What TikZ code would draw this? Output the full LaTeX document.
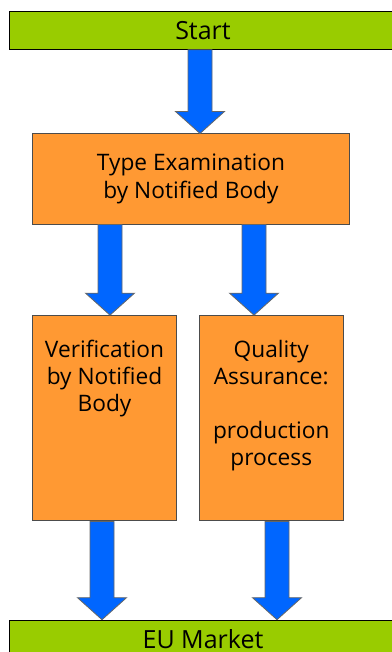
\documentclass[tikz,border=0pt]{standalone}
\usepackage{fontspec}
\setmainfont{Open Sans}
\usetikzlibrary{calc,positioning}
\definecolor{bargreen}{RGB}{153,204,0}
\definecolor{boxorange}{RGB}{255,153,51}
\definecolor{arrowblue}{RGB}{0,102,255}
\tikzstyle{flowstyle}=[
    x=1pt, y=-1pt,
    bar/.style={
        draw=black, fill=bargreen, line width=1pt,
        minimum width=387.4pt, minimum height=37.6pt, inner sep=0pt,
        font=\fontsize{25}{28}\selectfont,
    },
    stepbox/.style={
        draw=black!70, fill=boxorange, line width=1pt, inner sep=0pt,
        align=center, font=\fontsize{22.7}{28}\selectfont,
    },
    boxtext/.style={
        inner sep=0pt, align=center, font=\fontsize{22.7}{27}\selectfont,
    },
    blockarrow/.style={
        fill=arrowblue, draw=black!60, line width=0.8pt, line join=miter,
    },
]
% block arrow from (#1) down to (#2)
\newcommand{\blockarrow}[2]{%
    \draw[blockarrow] let \p1=(#1), \p2=(#2) in
        (\x1-12pt,\y1) -- (\x1+12pt,\y1) -- (\x1+12pt,\y2+22pt)
        -- (\x1+24.5pt,\y2+22pt) -- (\x2,\y2) -- (\x1-24.5pt,\y2+22pt)
        -- (\x1-12pt,\y2+22pt) -- cycle;}

\begin{document}
\begin{tikzpicture}[flowstyle]
    \useasboundingbox (0,0) rectangle (391,652);
    \node (start) at (203,30.5) [bar] {Start};
    \node (typeexam) at (191,179) [stepbox, minimum width=317.4pt, minimum height=90pt]
        {Type Examination\\ by Notified Body};
    \node (verif) at (104.5,418.3) [stepbox, minimum width=144.4pt, minimum height=205.3pt] {};
    \node (quality) at (271.3,418.3) [stepbox, minimum width=144pt, minimum height=205.3pt] {};
    \node (verift) [boxtext, below=25pt of verif.north] {Verification\\ by Notified\\ Body};
    \node (qualityt) [boxtext, below=25pt of quality.north] {Quality\\ Assurance:\\[27pt] production\\ process};
    \node (market) at (203,639) [bar] {EU Market};
    % arrow columns
    \coordinate (c1) at (200,0);
    \coordinate (c2) at (110,0);
    \coordinate (c3) at (254,0);
    \coordinate (c4) at (102,0);
    \coordinate (c5) at (277,0);
    \blockarrow{start.south -| c1}{typeexam.north -| c1}
    \blockarrow{typeexam.south -| c2}{verif.north -| c2}
    \blockarrow{typeexam.south -| c3}{quality.north -| c3}
    \blockarrow{verif.south -| c4}{market.north -| c4}
    \blockarrow{quality.south -| c5}{market.north -| c5}
\end{tikzpicture}
\end{document}
